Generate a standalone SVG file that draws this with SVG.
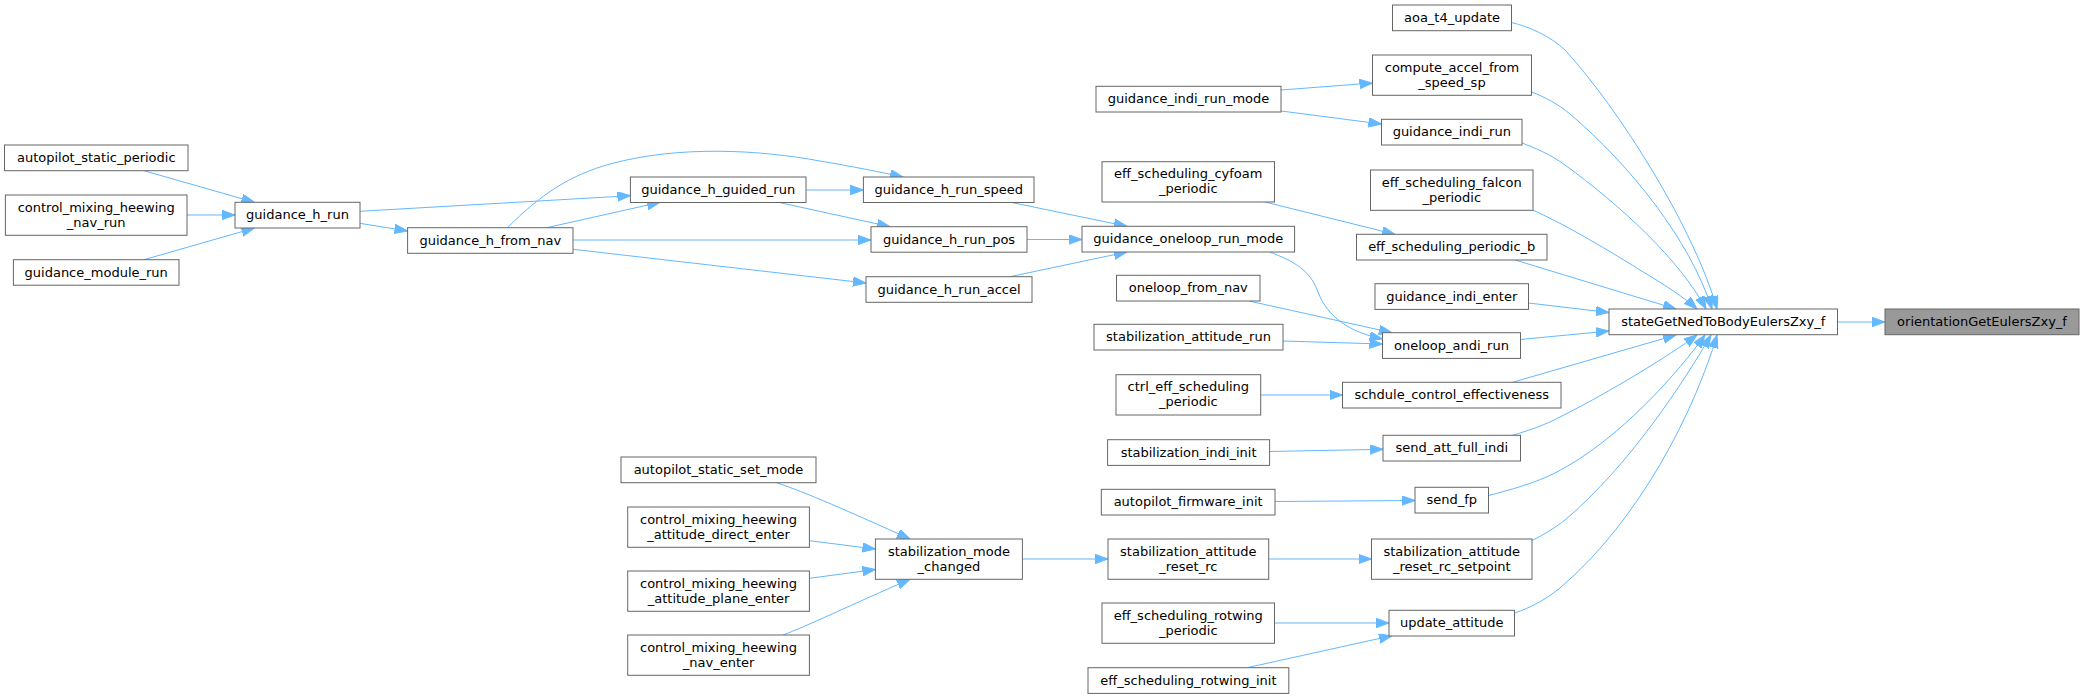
<svg xmlns="http://www.w3.org/2000/svg" width="2084" height="699" viewBox="0 0 2084 699">
<style>
.node rect{fill:#ffffff;stroke:#666666;stroke-width:1}
.node.hl rect{fill:#999999}
text{font-family:"DejaVu Sans","Liberation Sans",sans-serif;font-size:13px;text-anchor:middle;fill:#000}
.edges path{fill:none;stroke:#63b8ff;stroke-width:1;marker-end:url(#arr)}
</style>
<defs>
<marker id="arr" markerUnits="userSpaceOnUse" viewBox="0 0 14 10" markerWidth="14" markerHeight="10" refX="13" refY="4.7" orient="auto">
<path d="M0,0 L13,4.7 L0,9.4 z" fill="#63b8ff" stroke="#63b8ff" stroke-width="1"/>
</marker>
</defs>
<rect width="2084" height="699" fill="#ffffff"/>
<g class="edges">
<path d="M1837.5,322 L1885,322"/>
<path d="M1511.5,22.5 C1530,27 1550,36 1565,50 C1620,110 1695,230 1717,309"/>
<path d="M1531.5,92 C1545,97 1558,104 1570,114 C1630,165 1690,240 1712,309"/>
<path d="M1522,143 C1535,148 1550,154 1565,165 C1620,205 1680,260 1706,309"/>
<path d="M1532.5,210 C1560,222 1600,245 1640,270 C1665,285 1685,298 1697,309"/>
<path d="M1515,260 L1676,309"/>
<path d="M1528.5,303 L1609,312.5"/>
<path d="M1520.5,339.5 L1609,331"/>
<path d="M1512.5,382.3 L1676,335"/>
<path d="M1512,435.5 C1530,430 1545,425 1560,417 C1610,392 1670,355 1697,335"/>
<path d="M1488.5,495.5 C1510,490 1535,483 1555,473 C1620,440 1680,370 1705,335"/>
<path d="M1532,540.5 C1545,534 1556,527 1565,520 C1630,465 1685,380 1711,335"/>
<path d="M1514.5,613 C1530,608 1545,600 1560,588 C1640,520 1695,410 1717,335"/>
<path d="M1281,90 L1372.5,83"/>
<path d="M1281,111 L1381.5,124"/>
<path d="M1265,202 L1395,234.3"/>
<path d="M1270,252 C1295,262 1310,270 1318,292 C1328,318 1350,332 1382.5,339"/>
<path d="M1249,301 L1392,332.7"/>
<path d="M1283,341 L1382.5,344"/>
<path d="M1260.7,395 L1342.5,395"/>
<path d="M1269.6,451.5 L1383,449.3"/>
<path d="M1275,501.5 L1415,500.5"/>
<path d="M1268.7,559 L1371.5,559"/>
<path d="M1274.5,623 L1389,623"/>
<path d="M1247,667.7 L1392,635.7"/>
<path d="M1022.3,559 L1108,559"/>
<path d="M776.5,482.7 C805,492 850,512 910,539"/>
<path d="M809.4,540.7 L875.4,549"/>
<path d="M809.4,578.3 L875.4,569.5"/>
<path d="M783,635 C805,627 855,603 910,579.3"/>
<path d="M144,170.7 L254.5,202.3"/>
<path d="M187,215 L235,215"/>
<path d="M144,259.7 L254.5,228"/>
<path d="M359.8,211.3 L630.4,195.7"/>
<path d="M359.8,223.3 L407.6,231"/>
<path d="M546.7,227.7 L660,202.3"/>
<path d="M507.5,227.7 C540,195 570,175 610,164 C680,145 760,150 820,161 C850,166 880,172 903,177"/>
<path d="M573.3,240 L871,240"/>
<path d="M573.2,249.3 L866,283"/>
<path d="M806,190 L863.4,190"/>
<path d="M778.3,202.3 L890,226.7"/>
<path d="M1010.7,202.3 L1127,226.3"/>
<path d="M1027,239.5 L1082,239.5"/>
<path d="M1009.8,276.7 L1127,252"/>
</g>
<g id="n_orientationGetEulersZxy_f" class="node hl"><rect x="1885" y="309" width="194" height="25.7"/><text x="1982" y="326.1">orientationGetEulersZxy_f</text></g>
<g id="n_stateGetNedToBodyEulersZxy_f" class="node"><rect x="1609" y="309" width="228.5" height="25.7"/><text x="1723.25" y="326.1">stateGetNedToBodyEulersZxy_f</text></g>
<g id="n_aoa_t4_update" class="node"><rect x="1392.5" y="5" width="119" height="25.7"/><text x="1452" y="22.1">aoa_t4_update</text></g>
<g id="n_compute_accel_from_speed_sp" class="node"><rect x="1372.5" y="55" width="159" height="40.3"/><text x="1452" y="71.5">compute_accel_from</text><text x="1452" y="86.5">_speed_sp</text></g>
<g id="n_guidance_indi_run" class="node"><rect x="1381.5" y="119.3" width="140.5" height="25.7"/><text x="1451.75" y="136.4">guidance_indi_run</text></g>
<g id="n_eff_scheduling_falcon_periodic" class="node"><rect x="1370.5" y="170" width="162.5" height="40.3"/><text x="1451.75" y="186.5">eff_scheduling_falcon</text><text x="1451.75" y="201.5">_periodic</text></g>
<g id="n_eff_scheduling_periodic_b" class="node"><rect x="1356.5" y="234.3" width="190.5" height="25.7"/><text x="1451.75" y="251.4">eff_scheduling_periodic_b</text></g>
<g id="n_guidance_indi_enter" class="node"><rect x="1375" y="283.7" width="153.5" height="25.7"/><text x="1451.75" y="300.8">guidance_indi_enter</text></g>
<g id="n_oneloop_andi_run" class="node"><rect x="1382.5" y="332.7" width="138" height="25.7"/><text x="1451.5" y="349.8">oneloop_andi_run</text></g>
<g id="n_schdule_control_effectiveness" class="node"><rect x="1342.5" y="382.3" width="218.5" height="25.7"/><text x="1451.75" y="399.4">schdule_control_effectiveness</text></g>
<g id="n_send_att_full_indi" class="node"><rect x="1383" y="435.3" width="137.5" height="25.7"/><text x="1451.75" y="452.4">send_att_full_indi</text></g>
<g id="n_send_fp" class="node"><rect x="1415" y="487.3" width="73.5" height="25.7"/><text x="1451.75" y="504.4">send_fp</text></g>
<g id="n_stabilization_attitude_reset_rc_setpoint" class="node"><rect x="1371.5" y="539" width="160.5" height="40.3"/><text x="1451.75" y="555.5">stabilization_attitude</text><text x="1451.75" y="570.5">_reset_rc_setpoint</text></g>
<g id="n_update_attitude" class="node"><rect x="1389" y="610.3" width="125.5" height="25.7"/><text x="1451.75" y="627.4">update_attitude</text></g>
<g id="n_guidance_indi_run_mode" class="node"><rect x="1096" y="86.3" width="185" height="25.7"/><text x="1188.5" y="103.4">guidance_indi_run_mode</text></g>
<g id="n_eff_scheduling_cyfoam_periodic" class="node"><rect x="1102" y="161.7" width="172.5" height="40.3"/><text x="1188.25" y="178.2">eff_scheduling_cyfoam</text><text x="1188.25" y="193.2">_periodic</text></g>
<g id="n_guidance_oneloop_run_mode" class="node"><rect x="1082" y="226.3" width="212.6" height="25.7"/><text x="1188.3" y="243.4">guidance_oneloop_run_mode</text></g>
<g id="n_oneloop_from_nav" class="node"><rect x="1116.5" y="275.3" width="143.5" height="25.7"/><text x="1188.25" y="292.4">oneloop_from_nav</text></g>
<g id="n_stabilization_attitude_run" class="node"><rect x="1094" y="324.3" width="189" height="25.7"/><text x="1188.5" y="341.4">stabilization_attitude_run</text></g>
<g id="n_ctrl_eff_scheduling_periodic" class="node"><rect x="1116" y="374.7" width="144.7" height="40.3"/><text x="1188.35" y="391.2">ctrl_eff_scheduling</text><text x="1188.35" y="406.2">_periodic</text></g>
<g id="n_stabilization_indi_init" class="node"><rect x="1107.6" y="439.7" width="162" height="25.7"/><text x="1188.6" y="456.8">stabilization_indi_init</text></g>
<g id="n_autopilot_firmware_init" class="node"><rect x="1101.3" y="489.3" width="173.7" height="25.7"/><text x="1188.15" y="506.4">autopilot_firmware_init</text></g>
<g id="n_stabilization_attitude_reset_rc" class="node"><rect x="1108" y="539" width="160.7" height="40.3"/><text x="1188.35" y="555.5">stabilization_attitude</text><text x="1188.35" y="570.5">_reset_rc</text></g>
<g id="n_eff_scheduling_rotwing_periodic" class="node"><rect x="1102" y="603" width="172.5" height="40.3"/><text x="1188.25" y="619.5">eff_scheduling_rotwing</text><text x="1188.25" y="634.5">_periodic</text></g>
<g id="n_eff_scheduling_rotwing_init" class="node"><rect x="1088" y="667.7" width="200.8" height="25.7"/><text x="1188.4" y="684.8">eff_scheduling_rotwing_init</text></g>
<g id="n_stabilization_mode_changed" class="node"><rect x="875.4" y="539" width="147" height="40.3"/><text x="948.9" y="555.5">stabilization_mode</text><text x="948.9" y="570.5">_changed</text></g>
<g id="n_autopilot_static_set_mode" class="node"><rect x="621" y="457" width="195" height="25.7"/><text x="718.5" y="474.1">autopilot_static_set_mode</text></g>
<g id="n_control_mixing_heewing_attitude_direct_enter" class="node"><rect x="627.7" y="507" width="181.7" height="40.3"/><text x="718.55" y="523.5">control_mixing_heewing</text><text x="718.55" y="538.5">_attitude_direct_enter</text></g>
<g id="n_control_mixing_heewing_attitude_plane_enter" class="node"><rect x="627.7" y="571" width="181.7" height="40.3"/><text x="718.55" y="587.5">control_mixing_heewing</text><text x="718.55" y="602.5">_attitude_plane_enter</text></g>
<g id="n_control_mixing_heewing_nav_enter" class="node"><rect x="627.7" y="635" width="181.7" height="40.3"/><text x="718.55" y="651.5">control_mixing_heewing</text><text x="718.55" y="666.5">_nav_enter</text></g>
<g id="n_guidance_h_guided_run" class="node"><rect x="630.4" y="177" width="175.6" height="25.5"/><text x="718.2" y="194.1">guidance_h_guided_run</text></g>
<g id="n_guidance_h_run_speed" class="node"><rect x="863.4" y="177" width="170.6" height="25.5"/><text x="948.7" y="194.1">guidance_h_run_speed</text></g>
<g id="n_guidance_h_run_pos" class="node"><rect x="871" y="226.7" width="156" height="25.5"/><text x="949" y="243.8">guidance_h_run_pos</text></g>
<g id="n_guidance_h_run_accel" class="node"><rect x="866" y="276.7" width="166" height="25.6"/><text x="949" y="293.8">guidance_h_run_accel</text></g>
<g id="n_guidance_h_from_nav" class="node"><rect x="407.6" y="227.7" width="165.4" height="25.6"/><text x="490.3" y="244.8">guidance_h_from_nav</text></g>
<g id="n_guidance_h_run" class="node"><rect x="235" y="202.3" width="125" height="25.7"/><text x="297.5" y="219.4">guidance_h_run</text></g>
<g id="n_autopilot_static_periodic" class="node"><rect x="4.5" y="145" width="183.5" height="25.7"/><text x="96.25" y="162.1">autopilot_static_periodic</text></g>
<g id="n_control_mixing_heewing_nav_run" class="node"><rect x="5.4" y="195" width="181.6" height="40.3"/><text x="96.2" y="211.5">control_mixing_heewing</text><text x="96.2" y="226.5">_nav_run</text></g>
<g id="n_guidance_module_run" class="node"><rect x="13.4" y="259.7" width="165.6" height="25.5"/><text x="96.2" y="276.8">guidance_module_run</text></g>
</svg>
